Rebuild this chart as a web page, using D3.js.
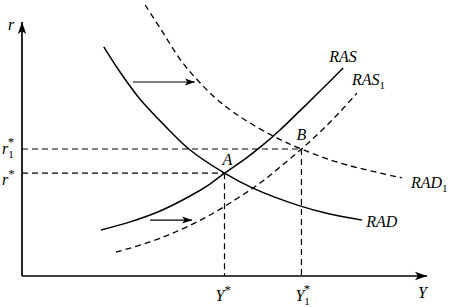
<!DOCTYPE html>
<html><head><meta charset="utf-8">
<script src="https://cdn.jsdelivr.net/npm/d3@7"></script>
<style>
html,body{margin:0;padding:0;background:#fff;}
svg{display:block;}
text{font-family:"Liberation Serif","Times New Roman",serif;font-style:italic;fill:#000;}
</style></head>
<body>
<script>
// ---- data (in model units, x: output Y, y: interest rate r) ----
const eqA = [50, 40.5];   // Y*, r*
const eqB = [69, 50];     // Y1*, r1*

const radX  = [20.2, 24.2, 28.9, 35.3, 41.5, 50, 57.0, 68.6, 76.0, 84.0];
const radY  = [90.2, 80.3, 70.1, 59.1, 49.6, 40.5, 34.6, 27.6, 24.4, 22.0];

const rad1X = [30.4, 34.1, 39.5, 44.0, 48.9, 55.1, 63.0, 69, 78.5, 93.8];
const rad1Y = [106.7, 97.6, 84.3, 76.0, 68.5, 61.4, 54.3, 50, 44.5, 38.6];

const rasX  = [19.5, 26.7, 34.1, 41.5, 46.4, 50, 55.1, 59.5, 63.7, 68.6, 73.6, 79.3];
const rasY  = [18.1, 21.3, 25.6, 31.5, 36.2, 40.5, 46.1, 51.6, 57.5, 65.0, 72.8, 81.9];

const ras1X = [23.2, 31.6, 39.0, 46.4, 53.3, 58.8, 63.7, 69, 73.6, 78.5, 82.7];
const ras1Y = [9.4, 13.4, 18.1, 24.0, 30.7, 36.6, 42.9, 50, 56.7, 64.6, 72.0];

const shiftArrows = [ {x0: 27.4, x1: 42.7, y: 76.4}, {x0: 31.6, x1: 42.0, y: 22.0} ];

const W = 449, H = 307;
const x = d3.scaleLinear().domain([0, 100]).range([22, 427]);
const y = d3.scaleLinear().domain([0, 100]).range([276, 22]);

const svg = d3.select("body").append("svg").attr("width", W).attr("height", H);
const defs = svg.append("defs");
defs.append("marker").attr("id", "ah").attr("viewBox", "0 0 10 10")
  .attr("refX", 10).attr("refY", 5).attr("markerWidth", 10).attr("markerHeight", 10)
  .attr("markerUnits", "userSpaceOnUse").attr("orient", "auto")
  .append("path").attr("d", "M0,1.5 L10,5 L0,8.5 L2.5,5 Z").attr("fill", "#000");
defs.append("marker").attr("id", "ah2").attr("viewBox", "0 0 10 10")
  .attr("refX", 10).attr("refY", 5).attr("markerWidth", 12).attr("markerHeight", 12)
  .attr("markerUnits", "userSpaceOnUse").attr("orient", "auto")
  .append("path").attr("d", "M0,1.5 L10,5 L0,8.5 L2.5,5 Z").attr("fill", "#000");

// axes
svg.append("line").attr("x1", x(0)).attr("y1", y(0)).attr("x2", x(0)).attr("y2", y(100))
  .attr("stroke", "#000").attr("stroke-width", 1.7).attr("marker-end", "url(#ah2)");
svg.append("line").attr("x1", x(0)).attr("y1", y(0)).attr("x2", x(100)).attr("y2", y(0))
  .attr("stroke", "#000").attr("stroke-width", 1.7).attr("marker-end", "url(#ah2)");

// guide dashed lines
const dash = "6,4";
[eqA, eqB].forEach(p => {
  svg.append("line").attr("x1", x(0)).attr("x2", x(p[0])).attr("y1", y(p[1])).attr("y2", y(p[1]))
    .attr("stroke", "#000").attr("stroke-width", 1.2).attr("stroke-dasharray", dash);
  svg.append("line").attr("x1", x(p[0])).attr("x2", x(p[0])).attr("y1", y(p[1])).attr("y2", y(0))
    .attr("stroke", "#000").attr("stroke-width", 1.2).attr("stroke-dasharray", dash);
});

// curves
const line = d3.line().x(d => x(d[0])).y(d => y(d[1])).curve(d3.curveCatmullRom.alpha(0.5));
function curve(xs, ys, dashed) {
  const pts = xs.map((v, i) => [v, ys[i]]);
  svg.append("path").attr("d", line(pts)).attr("fill", "none").attr("stroke", "#000")
    .attr("stroke-width", dashed ? 1.3 : 1.5).attr("stroke-dasharray", dashed ? dash : null);
  return pts[pts.length - 1];
}
const endRAD = curve(radX, radY, false);
const endRAD1 = curve(rad1X, rad1Y, true);
const endRAS = curve(rasX, rasY, false);
const endRAS1 = curve(ras1X, ras1Y, true);

// shift arrows
shiftArrows.forEach(a => {
  svg.append("line").attr("x1", x(a.x0)).attr("x2", x(a.x1)).attr("y1", y(a.y)).attr("y2", y(a.y))
    .attr("stroke", "#000").attr("stroke-width", 1.1).attr("marker-end", "url(#ah)");
});

// labels
function label(px, py, main, sub, sup, anchor) {
  const t = svg.append("text").attr("x", px).attr("y", py).attr("font-size", 16)
    .attr("text-anchor", anchor || "start");
  t.append("tspan").text(main);
  if (sub) t.append("tspan").attr("dy", 4).attr("font-size", 11).attr("font-style", "normal").text(sub);
  if (sup) t.append("tspan").attr("dy", sub ? -12 : -7).attr("dx", sub ? -6 : 0).attr("font-size", 13).attr("font-style", "normal").text(sup);
  return t;
}
label(x(endRAS[0]) - 14, y(endRAS[1]) - 6, "RAS");
label(x(endRAS1[0]) - 5, y(endRAS1[1]) - 8, "RAS", "1");
label(x(endRAD[0]) + 4, y(endRAD[1]) + 7, "RAD");
label(x(endRAD1[0]) + 9, y(endRAD1[1]) + 10, "RAD", "1");
label(x(eqA[0]) + 3, y(eqA[1]) - 8, "A", null, null, "middle");
label(x(eqB[0]), y(eqB[1]) - 9, "B", null, null, "middle");

// axis titles and tick labels
label(x(0) - 14, y(100) + 8, "r");
label(x(100) - 9, y(0) + 22, "Y");
label(x(0) - 20, y(eqB[1]) + 5, "r", "1", "*");
label(x(0) - 20, y(eqA[1]) + 12, "r", null, "*");
label(x(eqA[0]) - 9, y(0) + 25, "Y", null, "*");
label(x(eqB[0]) - 6, y(0) + 25, "Y", "1", "*");
</script>
</body></html>
